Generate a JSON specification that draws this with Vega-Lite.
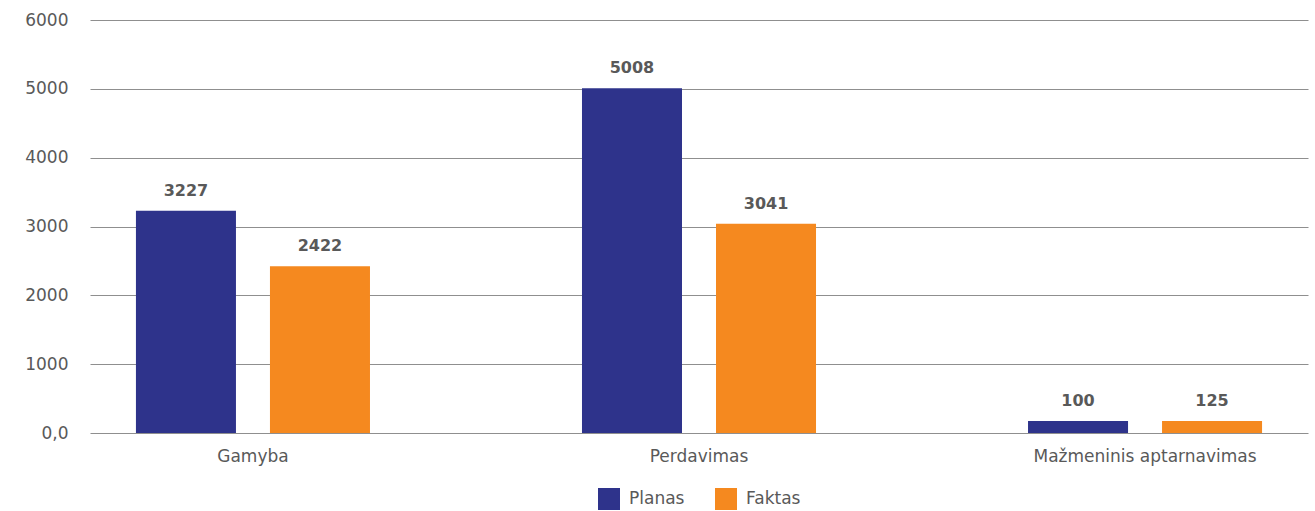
{
  "$schema": "https://vega.github.io/schema/vega-lite/v6.json",
  "width": 1218,
  "height": 413,
  "autosize": {"type": "none"},
  "padding": {"left": 90, "top": 20, "right": 7, "bottom": 78},
  "background": "white",
  "config": {"view": {"stroke": null}, "font": "DejaVu Sans"},
  "data": {
    "values": [
      {"category": "Gamyba", "series": "Planas", "value": 3227, "label": "3227"},
      {"category": "Gamyba", "series": "Faktas", "value": 2422, "label": "2422"},
      {"category": "Perdavimas", "series": "Planas", "value": 5008, "label": "5008"},
      {"category": "Perdavimas", "series": "Faktas", "value": 3041, "label": "3041"},
      {"category": "Mažmeninis aptarnavimas", "series": "Planas", "value": 175, "label": "100"},
      {"category": "Mažmeninis aptarnavimas", "series": "Faktas", "value": 175, "label": "125"}
    ]
  },
  "encoding": {
    "x": {
      "field": "category",
      "type": "nominal",
      "sort": null,
      "scale": {"paddingInner": 0.4753, "paddingOuter": 0.103},
      "axis": {
        "title": null,
        "labelAngle": 0,
        "domain": false,
        "ticks": false,
        "labelPadding": 15,
        "labelFontSize": 17,
        "labelColor": "#595959",
        "labelFont": "DejaVu Sans",
        "labelLimit": 0
      }
    },
    "xOffset": {
      "field": "series",
      "type": "nominal",
      "sort": ["Planas", "Faktas"],
      "scale": {"paddingInner": 0.2537, "paddingOuter": 0}
    }
  },
  "layer": [
    {
      "mark": {"type": "bar"},
      "encoding": {
        "y": {
          "field": "value",
          "type": "quantitative",
          "scale": {"domain": [0, 6000], "nice": false},
          "axis": {
            "title": null,
            "values": [0, 1000, 2000, 3000, 4000, 5000, 6000],
            "labelExpr": "datum.value === 0 ? '0,0' : format(datum.value, 'd')",
            "grid": true,
            "gridColor": "#8f8f8f",
            "gridWidth": 1,
            "domain": false,
            "ticks": false,
            "labelPadding": 22,
            "labelFontSize": 17,
            "labelColor": "#595959",
            "labelFont": "DejaVu Sans"
          }
        },
        "color": {
          "field": "series",
          "type": "nominal",
          "sort": ["Planas", "Faktas"],
          "scale": {"domain": ["Planas", "Faktas"], "range": ["#2E338B", "#F5891F"]},
          "legend": {
            "title": null,
            "orient": "none",
            "legendX": 508,
            "legendY": 468,
            "direction": "horizontal",
            "symbolType": "square",
            "symbolSize": 484,
            "symbolStrokeWidth": 0,
            "symbolOpacity": 1,
            "labelFontSize": 17,
            "labelColor": "#595959",
            "labelFont": "DejaVu Sans",
            "labelOffset": 9,
            "columnPadding": 30,
            "padding": 0
          }
        }
      }
    },
    {
      "mark": {"type": "text", "baseline": "alphabetic", "dy": -15, "fontWeight": "bold", "fontSize": 16, "color": "#595959", "font": "DejaVu Sans"},
      "encoding": {
        "y": {"field": "value", "type": "quantitative"},
        "text": {"field": "label"}
      }
    }
  ]
}
